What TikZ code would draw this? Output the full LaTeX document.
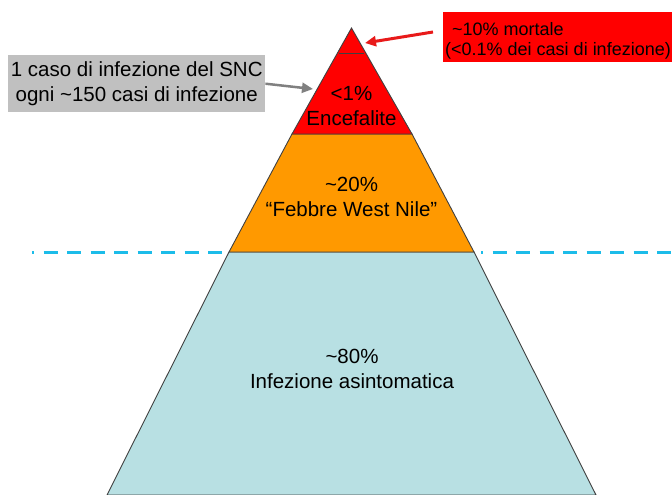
\documentclass[tikz,border=0pt]{standalone}
\usepackage{fontspec}
\setmainfont{Liberation Sans}
\usetikzlibrary{arrows.meta}
\definecolor{pred}{HTML}{FF0000}
\definecolor{porange}{HTML}{FF9900}
\definecolor{pblue}{HTML}{B8E0E3}
\definecolor{pgray}{HTML}{C0C0C0}
\definecolor{pdash}{HTML}{1CBCE9}
\definecolor{parrow}{HTML}{E81A1A}
\definecolor{pgarrow}{HTML}{808080}
\definecolor{pedge}{HTML}{404040}
\tikzset{
  layer/.style={draw=pedge, line width=0.9pt, line join=miter},
  bigtxt/.style={font=\fontsize{20.5}{25}\selectfont, align=center, inner sep=0pt},
  smalltxt/.style={font=\fontsize{18}{20}\selectfont, align=left, inner sep=0pt},
  waterline/.style={pdash, line width=3.2pt, dash pattern=on 14pt off 9.5pt, dash phase=12pt},
  callarrow/.style={line width=3pt, -{Triangle[length=11pt,width=10pt]}},
}
\begin{document}
\begin{tikzpicture}[x=1pt,y=-1pt]
\useasboundingbox (0,0) rectangle (672,495);
\fill[white] (0,0) rectangle (672,495);
% pyramid layers
\path[layer, fill=pblue] (229,252) -- (474,252) -- (596,495) -- (107,495) -- cycle;
\path[layer, fill=porange] (292,134) -- (412,134) -- (474,252) -- (229,252) -- cycle;
\path[layer, fill=pred] (351.5,28) -- (412,134) -- (292,134) -- cycle;
\draw[pedge, line width=0.9pt] (339,53.3) -- (364,53.3);
% water line
\draw[waterline] (32,252.7) -- (229,252.7);
\draw[waterline] (481,252.7) -- (672,252.7);
% texts in pyramid
\node[bigtxt] (enc) at (351.5,106) {<1\%\\Encefalite};
\node[bigtxt] (wnf) at (351.5,197) {\textasciitilde20\%\\“Febbre West Nile”};
\node[bigtxt] (asy) at (352,369) {\textasciitilde80\%\\Infezione asintomatica};
% gray callout
\node[fill=pgray, minimum width=257pt, minimum height=57pt, inner sep=0pt,
      font=\fontsize{20.5}{25}\selectfont, align=center, anchor=north west]
  (cns) at (8,55) {1 caso di infezione del SNC\\ogni \textasciitilde150 casi di infezione};
\coordinate (cnstip) at (313,89);
\draw[callarrow, pgarrow, line width=2.5pt] (cns.east) -- (cnstip);
% red callout
\node[fill=pred, minimum width=240pt, minimum height=50pt, anchor=north west, inner sep=0pt]
  (mortbox) at (443,12) {};
\node[smalltxt, anchor=west] (morttxt) at (445,41) {\hspace*{7pt}\textasciitilde10\% mortale\\(<0.1\% dei casi di infezione)};
\coordinate (mortstart) at (433,32);
\coordinate (morttip) at (365,43);
\draw[callarrow, parrow] (mortstart) -- (morttip);
\end{tikzpicture}
\end{document}
